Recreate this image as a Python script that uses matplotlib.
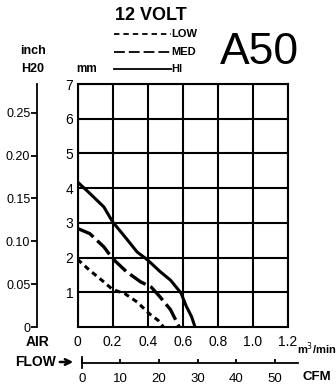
import matplotlib
matplotlib.use("Agg")
import matplotlib.pyplot as plt

plt.rcParams['font.family'] = ['Liberation Sans Narrow', 'Liberation Sans', 'DejaVu Sans']

# airflow (m3/min) vs static pressure (mm H2O)
hi_flow = [0, 0.07, 0.15, 0.20, 0.27, 0.34, 0.40, 0.47, 0.53, 0.59, 0.62, 0.65, 0.67]
hi_pres = [4.18, 3.85, 3.46, 3.03, 2.60, 2.16, 1.93, 1.60, 1.35, 0.98, 0.60, 0.30, 0]
med_flow = [0, 0.07, 0.15, 0.20, 0.28, 0.36, 0.42, 0.47, 0.53, 0.58]
med_pres = [2.84, 2.69, 2.31, 1.97, 1.59, 1.30, 1.15, 0.87, 0.50, 0]
low_flow = [0, 0.07, 0.15, 0.20, 0.27, 0.34, 0.41, 0.46, 0.49]
low_pres = [1.95, 1.63, 1.30, 1.08, 0.96, 0.72, 0.38, 0.19, 0]

flow_ticks = [0, 0.2, 0.4, 0.6, 0.8, 1.0, 1.2]
flow_labels = ['0', '0.2', '0.4', '0.6', '0.8', '1.0', '1.2']
mm_ticks = [1, 2, 3, 4, 5, 6, 7]
inch_ticks = [0, 0.05, 0.10, 0.15, 0.20, 0.25]
inch_labels = ['0', '0.05', '0.10', '0.15', '0.20', '0.25']
cfm_ticks = [0, 10, 20, 30, 40, 50]

W, H = 336, 387
fig = plt.figure(figsize=(W / 100, H / 100), dpi=100)


def box(x0, y0, x1, y1):
    # pixel box (top-left origin) -> figure fraction rect
    return [x0 / W, 1 - y1 / H, (x1 - x0) / W, (y1 - y0) / H]


def ftext(x, y, s, **kw):
    fig.text(x / W, 1 - y / H, s, **kw)


ax = fig.add_axes(box(77.5, 84, 288, 327))
ax.set_xlim(0, 1.2)
ax.set_ylim(0, 7)
ax.set_xticks(flow_ticks)
ax.set_xticklabels(flow_labels)
ax.set_yticks(mm_ticks)
ax.tick_params(length=0, labelsize=10)
ax.tick_params(axis='x', pad=6)
ax.tick_params(axis='y', pad=3)
ax.grid(True, color='black', linewidth=1.5)
for s in ax.spines.values():
    s.set_linewidth(1.5)

ax.plot(hi_flow, hi_pres, color='black', lw=2.2, solid_capstyle='butt')
ax.plot(med_flow, med_pres, color='black', lw=2.4, dashes=(5.5, 1.6))
ax.plot(low_flow, low_pres, color='black', lw=2.2, dashes=(1.8, 1.4))

# inch H2O scale on the far left
ax2 = ax.twinx()
ax2.set_ylim(0, 0.2835)
ax2.yaxis.set_ticks_position('left')
ax2.spines['left'].set_position(('outward', 29))
for side in ['right', 'top', 'bottom']:
    ax2.spines[side].set_visible(False)
ax2.spines['left'].set_linewidth(1.3)
ax2.set_yticks(inch_ticks)
ax2.set_yticklabels(inch_labels)
ax2.tick_params(axis='y', direction='out', length=4, width=1.3, labelsize=9, pad=1)

# CFM scale under the chart
ax3 = fig.add_axes(box(81.7, 357, 298, 363))
ax3.set_xlim(0, 55.95)
ax3.set_ylim(0, 1)
for side in ['left', 'right', 'top']:
    ax3.spines[side].set_visible(False)
ax3.spines['bottom'].set_linewidth(1.3)
ax3.set_yticks([])
ax3.set_xticks(cfm_ticks)
ax3.tick_params(axis='x', direction='in', length=3, width=1.3, labelsize=9.5, pad=7)
ax3.plot([0, 0], [-0.8, 1.0], color='black', lw=1.3, clip_on=False)
ax3.patch.set_visible(False)

# text labels
ftext(151, 15, '12 VOLT', fontsize=13, fontweight='bold', ha='center', va='center')
ftext(259, 52, 'A50', fontsize=32, ha='center', va='center')
ftext(33, 51, 'inch', fontsize=9, fontweight='bold', ha='center', va='center')
ftext(33, 69, 'H20', fontsize=9, fontweight='bold', ha='center', va='center')
ftext(87, 69, 'mm', fontsize=8.5, fontweight='bold', ha='center', va='center')
ftext(38, 342, 'AIR', fontsize=10, fontweight='bold', ha='center', va='center')
ftext(36, 362, 'FLOW', fontsize=10, fontweight='bold', ha='center', va='center')
ftext(317, 377, 'CFM', fontsize=9.5, fontweight='bold', ha='center', va='center')
ftext(297, 349, 'm$^3$/min', fontsize=8, fontweight='bold', ha='left', va='center')
ax.annotate('', xy=(76 / W, 1 - 362 / H), xytext=(57 / W, 1 - 362 / H),
            xycoords='figure fraction', textcoords='figure fraction',
            arrowprops=dict(arrowstyle='->', lw=1.8, color='black'))

# legend sample lines
for y, name, dash in [(34, 'LOW', (3, 2.2)), (52, 'MED', (6, 2.2)), (69, 'HI', None)]:
    ln = plt.Line2D([114 / W, 171 / W], [1 - y / H, 1 - y / H], color='black', lw=1.3,
                    transform=fig.transFigure)
    if dash:
        ln.set_dashes(dash)
    fig.add_artist(ln)
    ftext(171, y, name, fontsize=8, fontweight='bold', ha='left', va='center')

fig.savefig('out.png', dpi=100)
